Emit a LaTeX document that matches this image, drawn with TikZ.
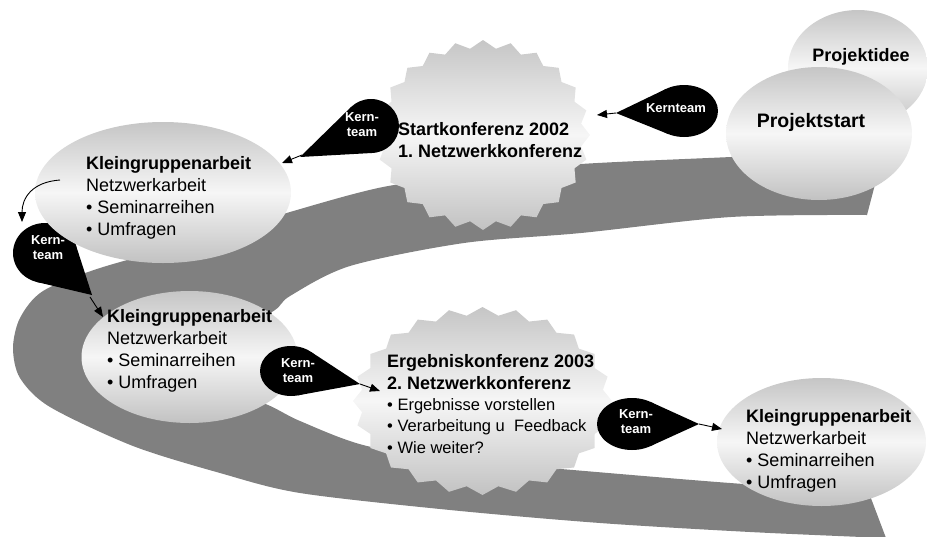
\documentclass[tikz,border=0pt]{standalone}
\usepackage{fontspec}
\setmainfont{Liberation Sans}
\usetikzlibrary{shapes.geometric,arrows.meta}
\frenchspacing

% teardrop: cx, cy, rx, ry, tipx, tipy
\newcommand\kdrop[6]{%
  \pgfmathsetmacro\kdu{((#5)-(#1))/(#3)}%
  \pgfmathsetmacro\kdv{((#6)-(#2))/(#4)}%
  \pgfmathsetmacro\kdphi{atan2(\kdv,\kdu)}%
  \pgfmathsetmacro\kdal{acos(1/sqrt(\kdu*\kdu+\kdv*\kdv))}%
  \pgfmathsetmacro\kdax{#1+#3*cos(\kdphi+\kdal)}%
  \pgfmathsetmacro\kday{#2+#4*sin(\kdphi+\kdal)}%
  \pgfmathsetmacro\kdbx{#1+#3*cos(\kdphi-\kdal)}%
  \pgfmathsetmacro\kdby{#2+#4*sin(\kdphi-\kdal)}%
  \fill[dropfill] (#5,#6) -- (\kdax,\kday) -- (\kdbx,\kdby) -- cycle;
  \fill[dropfill] (#1,#2) ellipse[x radius=#3, y radius=#4];
}
% starburst: cx, cy, rx, ry, depth
\newcommand\kstar[5]{%
  \path[softshade] plot[domain=0:47, samples=48, variable=\k]
    ({#1+(#3-#5*mod(\k,2))*cos(\k*7.5)}, {#2+(#4-#5*mod(\k,2))*sin(\k*7.5)}) -- cycle;
}

\begin{document}
\begin{tikzpicture}[x=1pt,y=-1pt,
  band/.style={fill=gray},
  softshade/.style={top color=gray!45, bottom color=gray!48, middle color=gray!7},
  bubble/.style={ellipse, softshade, inner sep=0pt, draw=none},
  dropfill/.style={fill=black},
  lbl/.style={align=left, anchor=west, inner sep=0pt, font=\fontsize{18}{22}\selectfont},
  kt/.style={text=white, align=center, inner sep=0pt, font=\bfseries\fontsize{13}{15}\selectfont},
  conn/.style={-{Triangle[length=10pt,width=8pt]}, line width=0.9pt}
]
\useasboundingbox (0,0) rectangle (927,536);

% spiral band
\fill[band] plot[smooth, tension=0.5] coordinates {
  (884,150) (731,157) (581,164) (480,174) (383,187) (290,212) (200,240)
  (100,268) (43,291) (20,318) (13,348) (20,378) (50,407) (133,446)
  (220,473) (300,493) (450,510) (600,523) (750,532) (886,538)}
  -- plot[smooth, tension=0.5] coordinates {
  (869,493) (717,482) (573,470) (470,461) (367,446) (300,421) (263,403)
  (200,385) (195,345) (270,313) (290,296) (350,266) (464,243) (581,233)
  (731,217) (867,215)} -- cycle;

% Projektidee / Projektstart
\node[bubble, minimum width=140pt, minimum height=116pt] (idee) at (858,68) {};
\node[font=\bfseries\fontsize{18}{22}\selectfont, inner sep=0pt] (ideet) at (861,57) {Projektidee};
\node[bubble, minimum width=186pt, minimum height=133pt] (start) at (819,133.5) {};

% Startkonferenz starburst
\kstar{483}{135}{107}{95}{8}

% drop C (behind Kleingruppe 1)
\kdrop{45}{253}{32}{30}{92}{295}

% Kleingruppen
\node[bubble, minimum width=256pt, minimum height=141pt] (kg1) at (163,192.5) {};
\node[bubble, minimum width=216pt, minimum height=132pt] (kg2) at (189.5,357) {};

% Ergebnis starburst
\kstar{482.5}{401}{129.5}{94}{8}

\node[bubble, minimum width=209pt, minimum height=128pt] (kg3) at (821.5,442) {};

% drops
\kdrop{684}{111}{34}{26}{616}{113}
\kdrop{371}{126}{28}{27}{300}{157}
\kdrop{291}{371}{31}{25}{360}{384}
\kdrop{632}{424}{35}{26}{699}{424}

% texts
\node[font=\bfseries\fontsize{19.5}{22}\selectfont, inner sep=0pt] (startt) at (811,122) {Projektstart};
\node[lbl, font=\bfseries\fontsize{18}{22}\selectfont] (skt) at (398,140)
  {Startkonferenz 2002\\1. Netzwerkkonferenz};
\node[lbl] (kg1t) at (86,197.5)
  {\textbf{Kleingruppenarbeit}\\Netzwerkarbeit\\• Seminarreihen\\• Umfragen};
\node[lbl] (kg2t) at (107,351)
  {\textbf{Kleingruppenarbeit}\\Netzwerkarbeit\\• Seminarreihen\\• Umfragen};
\node[lbl] (kg3t) at (746,451)
  {\textbf{Kleingruppenarbeit}\\Netzwerkarbeit\\• Seminarreihen\\• Umfragen};
\node[lbl, font=\fontsize{18}{21.3}\selectfont] (ergt) at (387,404)
  {\textbf{Ergebniskonferenz 2003}\\\textbf{2. Netzwerkkonferenz}\\
   {\fontsize{16.5}{20}\selectfont • Ergebnisse vorstellen}\\
   {\fontsize{16.5}{20}\selectfont • Verarbeitung u\ \ Feedback}\\
   {\fontsize{16.5}{20}\selectfont • Wie weiter?}};

\node[kt] (ktA) at (676,108) {Kernteam};
\node[kt] (ktB) at (362,124.5) {Kern-\\team};
\node[kt] (ktC) at (48,247.5) {Kern-\\team};
\node[kt] (ktD) at (298,370.5) {Kern-\\team};
\node[kt] (ktE) at (636,421.5) {Kern-\\team};

% connector end points
\coordinate (tA) at (616,113);  \coordinate (eA) at (597,115);
\coordinate (tB) at (302,155);  \coordinate (eB) at (282,163);
\coordinate (kg1out) at (60,180); \coordinate (eC0) at (22,222);
\coordinate (tC) at (90,297);   \coordinate (eC) at (103,317);
\coordinate (tD) at (360,384);  \coordinate (eD) at (380,391);
\coordinate (tE) at (699,424);  \coordinate (eE) at (722,429);

\draw[conn] (tA) -- (eA);
\draw[conn] (tB) -- (eB);
\draw[conn] (kg1out) .. controls (32,182) and (22,198) .. (eC0);
\draw[conn] (tC) -- (eC);
\draw[conn] (tD) -- (eD);
\draw[conn] (tE) -- (eE);
\end{tikzpicture}
\end{document}
